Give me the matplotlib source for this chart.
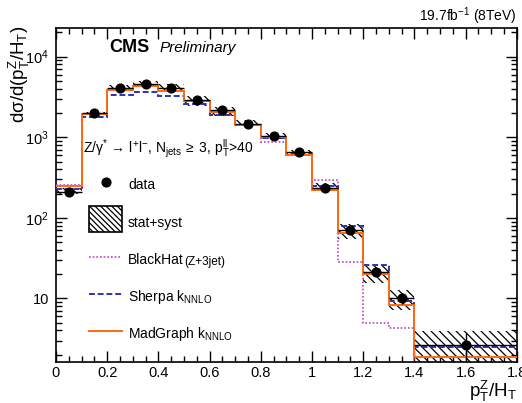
import numpy as np
import matplotlib
matplotlib.use('Agg')
import matplotlib.pyplot as plt
from matplotlib.ticker import FixedLocator, FuncFormatter, LogLocator, MultipleLocator
from matplotlib.patches import Rectangle
from matplotlib.lines import Line2D

# ---- data ----
edges = [0.0, 0.1, 0.2, 0.3, 0.4, 0.5, 0.6, 0.7, 0.8, 0.9, 1.0, 1.1, 1.2, 1.3, 1.4, 1.8]
data = [212, 1990, 4050, 4590, 4100, 2940, 2190, 1480, 1030, 648, 238, 70, 21.1, 10.1, 2.68]
data_stat = [6, 25, 40, 45, 40, 35, 30, 20, 15, 10, 6, 4, 2.0, 1.6, 1.0]
band_hi = [232, 2085, 4510, 5050, 4590, 3290, 2355, 1645, 1133, 698, 268, 83, 26.0, 12.9, 3.9]
band_lo = [195, 1807, 3790, 4170, 3790, 2470, 1860, 1370, 955, 610, 218, 54, 15.6, 7.1, 1.5]
madgraph = [247, 1950, 3870, 4300, 3790, 2820, 2085, 1425, 1000, 595, 224, 65, 20.3, 8.3, 1.9]
sherpa = [228, 1780, 3360, 3680, 3260, 2560, 1910, 1400, 990, 628, 251, 79, 26.0, 9.4, 2.48]
blackhat = [259, 1950, 3870, 4300, 3790, 2820, 2085, 1425, 867, 600, 292, 28.7, 4.98, 4.26, 1.0]

LUMI = r"19.7fb$^{-1}$ (8TeV)"
HEADER = r"Z/$\gamma^{*}\,\rightarrow\,$l$^{+}$l$^{-}$, N$_{jets}\,\geq$ 3, p$_{T}^{ll}$>40"

C_ORANGE = "#ff6a10"
C_BLUE = "#3030b8"
C_MAGENTA = "#c040c8"

plt.rcParams["font.family"] = ["Liberation Sans", "DejaVu Sans"]
plt.rcParams["mathtext.fontset"] = "custom"
plt.rcParams["mathtext.rm"] = "Liberation Sans"
plt.rcParams["mathtext.it"] = "Liberation Sans:italic"
plt.rcParams["mathtext.bf"] = "Liberation Sans:bold"
plt.rcParams["mathtext.default"] = "rm"
plt.rcParams["hatch.linewidth"] = 0.9

W, H = 522, 403
fig = plt.figure(figsize=(W / 100, H / 100), dpi=100)
ax = fig.add_axes([56 / W, 1 - 361.7 / H, (516.7 - 56) / W, (361.7 - 28) / H])

edges_a = np.array(edges)
centers = 0.5 * (edges_a[1:] + edges_a[:-1])
widths = np.diff(edges_a)

# stat+syst band
ax.bar(edges_a[:-1], np.array(band_hi) - np.array(band_lo), bottom=band_lo,
       width=widths, align="edge", fill=False, hatch="\\\\\\\\",
       edgecolor="black", linewidth=0, zorder=2)

# predictions
ax.stairs(blackhat, edges, baseline=None, color=C_MAGENTA, linestyle=(0, (1, 1.2)),
          linewidth=1.2, zorder=3)
ax.stairs(sherpa, edges, baseline=None, color=C_BLUE, linestyle=(0, (3, 1.5)),
          linewidth=1.4, zorder=3)
ax.stairs(madgraph, edges, baseline=None, color=C_ORANGE, linewidth=1.4, zorder=4)

# data
ax.errorbar(centers, data, xerr=widths / 2, yerr=data_stat, fmt="o", color="black",
            markersize=6.3, elinewidth=1, capsize=0, zorder=5)

ax.set_yscale("log")
ax.set_xlim(0, 1.8)
ax.set_ylim(1.64, 22700)

ax.xaxis.set_major_locator(MultipleLocator(0.2))
ax.xaxis.set_minor_locator(MultipleLocator(0.05))
ax.xaxis.set_major_formatter(FuncFormatter(lambda v, p: "%g" % round(v, 2)))
ax.yaxis.set_major_locator(FixedLocator([10, 100, 1000, 10000]))
ax.yaxis.set_minor_locator(LogLocator(base=10, subs=np.arange(2, 10)))


def ylab(v, p):
    e = int(round(np.log10(v)))
    return "10" if e == 1 else r"10$^{%d}$" % e


ax.yaxis.set_major_formatter(FuncFormatter(ylab))
ax.tick_params(which="both", direction="in", top=True, right=True, labelsize=10.5, width=1)
ax.tick_params(which="major", length=8)
ax.tick_params(axis="x", which="major", pad=3)
ax.tick_params(axis="y", which="major", pad=5)
ax.tick_params(which="minor", length=4)
for s in ax.spines.values():
    s.set_linewidth(1.2)

# axis titles
fig.text(517 / W, 1 - 397 / H, r"p$_{T}^{Z}$/H$_{T}$", ha="right", va="baseline", fontsize=13.5)
fig.text(19 / W, 1 - 74 / H, r"d$\sigma$/d(p$_{T}^{Z}$/H$_{T}$)", rotation=90,
         ha="center", va="center", fontsize=13.5)

# header texts
fig.text(517 / W, 1 - 21 / H, LUMI, ha="right", va="baseline", fontsize=10)
fig.text(109 / W, 1 - 52 / H, "CMS", ha="left", va="baseline", fontsize=13, fontweight="bold")
fig.text(160 / W, 1 - 52 / H, "Preliminary", ha="left", va="baseline", fontsize=11, style="italic")
fig.text(83 / W, 1 - 153 / H, HEADER, ha="left", va="baseline", fontsize=10)


# legend, drawn by hand in pixel positions
def fx(px):
    return px / W


def fy(py):
    return 1 - py / H


fig.add_artist(Line2D([fx(106)], [fy(182)], marker="o", color="black", markersize=6.3))
fig.text(fx(128), fy(185), "data", va="center", fontsize=10)

fig.add_artist(Rectangle((fx(89), fy(232)), fx(122) - fx(89), fy(206) - fy(232),
                         fill=False, hatch="\\\\\\\\\\\\", edgecolor="black", linewidth=1.2))
fig.text(fx(128), fy(223), "stat+syst", va="center", fontsize=10)

fig.add_artist(Line2D([fx(89), fx(122)], [fy(257), fy(257)], color=C_MAGENTA,
                      linestyle=(0, (1, 1.2)), linewidth=1.2))
t = fig.text(fx(128), fy(260), "BlackHat", va="center", fontsize=10)
ax.annotate("(Z+3jet)", xy=(1, 0), xycoords=t, xytext=(0.5, -1.0),
            textcoords="offset points", ha="left", va="bottom", fontsize=8.5,
            annotation_clip=False)

fig.add_artist(Line2D([fx(89), fx(122)], [fy(294), fy(294)], color=C_BLUE,
                      linestyle=(0, (3, 1.5)), linewidth=1.4))
fig.text(fx(128), fy(297), r"Sherpa k$_{NNLO}$", va="center", fontsize=10)

fig.add_artist(Line2D([fx(89), fx(122)], [fy(331), fy(331)], color=C_ORANGE, linewidth=1.4))
fig.text(fx(128), fy(334), r"MadGraph k$_{NNLO}$", va="center", fontsize=10)

fig.savefig("out.png", dpi=100)
